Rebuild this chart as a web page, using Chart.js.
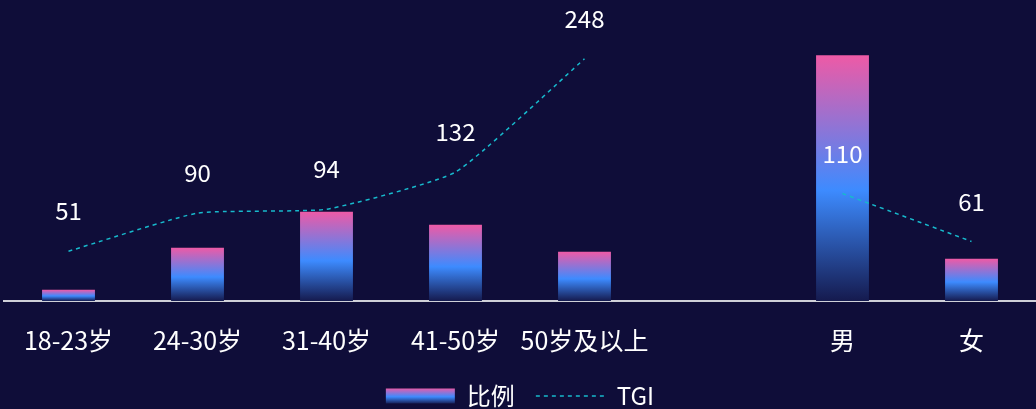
<!DOCTYPE html>
<html>
<head>
<meta charset="utf-8">
<script src="https://cdn.jsdelivr.net/npm/chart.js@4.4.1/dist/chart.umd.min.js"></script>
<style>
  html, body { margin: 0; padding: 0; background: #0f0d39; }
  #wrap { width: 1036px; height: 409px; position: relative; }
</style>
</head>
<body>
<div id="wrap"><canvas id="chart"></canvas></div>
<script>
// 数据
const categories = ['18-23岁', '24-30岁', '31-40岁', '41-50岁', '50岁及以上', '', '男', '女'];
const ratioValues = [3.8, 18.2, 30.5, 26.0, 16.8, null, 83.9, 14.4];
const tgiValues = [51, 90, 94, 132, 248, null, 110, 61];
const seriesNames = ['比例', 'TGI'];

const FONT = "'Microsoft YaHei', 'Noto Sans CJK SC', sans-serif";
const LEGEND_FONT = 24;
const PINK = '#ee5aa6';
const BLUE = '#3d8bff';
const DEEP = '#151a4e';
const CYAN = '#17b9cc';

function addStops(g) {
    g.addColorStop(0, PINK);
    g.addColorStop(0.55, BLUE);
    g.addColorStop(1, DEEP);
    return g;
}

function barGradient(context) {
    const chart = context.chart;
    if (!chart.chartArea || context.type !== 'data') return BLUE;
    const v = context.raw;
    if (v == null) return 'transparent';
    const scale = chart.scales.y1;
    const top = scale.getPixelForValue(v);
    const base = scale.getPixelForValue(0);
    return addStops(chart.ctx.createLinearGradient(0, top, 0, base));
}

// 折线上方的数值
const valueLabels = {
    id: 'valueLabels',
    afterDatasetsDraw(chart) {
        const meta = chart.getDatasetMeta(1);
        const ctx = chart.ctx;
        ctx.save();
        ctx.font = '24px ' + FONT;
        ctx.fillStyle = '#ffffff';
        ctx.textAlign = 'center';
        ctx.textBaseline = 'middle';
        meta.data.forEach((pt, i) => {
            const v = tgiValues[i];
            if (v == null) return;
            ctx.fillText(String(v), pt.x, pt.y - 40);
        });
        ctx.restore();
    }
};

// 图例高度固定，渐变色块按实际位置生成
const legendTweak = {
    id: 'legendTweak',
    afterInit(chart) {
        const lg = chart.legend;
        const fit = lg.fit;
        lg.fit = function () {
            fit.call(this);
            this.height = 46;
        };
    },
    beforeDraw(chart) {
        const lg = chart.legend;
        if (!lg || !lg.legendHitBoxes || !lg.legendHitBoxes.length) return;
        const hb = lg.legendHitBoxes[0];
        const cy = hb.top + LEGEND_FONT / 2;
        const g = addStops(chart.ctx.createLinearGradient(0, cy - 8, 0, cy + 8));
        lg.legendItems[0].fillStyle = g;
        lg.legendItems[0].strokeStyle = g;
    }
};

const ctx = document.getElementById('chart').getContext('2d');
const chart = new Chart(ctx, {
    type: 'bar',
    data: {
        labels: categories,
        datasets: [
            {
                type: 'bar',
                label: seriesNames[0],
                data: ratioValues,
                yAxisID: 'y1',
                backgroundColor: barGradient,
                borderWidth: 0,
                barPercentage: 0.41,
                categoryPercentage: 1,
                order: 1
            },
            {
                type: 'line',
                label: seriesNames[1],
                data: tgiValues,
                yAxisID: 'y',
                borderColor: CYAN,
                borderWidth: 1.5,
                borderDash: [4, 4],
                tension: 0.15,
                pointRadius: 0,
                spanGaps: false,
                fill: false,
                order: 0
            }
        ]
    },
    options: {
        responsive: true,
        maintainAspectRatio: false,
        animation: false,
        layout: { padding: { top: 8, left: 4, right: 0, bottom: 0 } },
        plugins: {
            tooltip: { enabled: false },
            legend: {
                position: 'bottom',
                labels: {
                    color: '#ffffff',
                    font: { size: LEGEND_FONT, family: FONT },
                    usePointStyle: true,
                    pointStyleWidth: 69,
                    boxHeight: 15,
                    padding: 21,
                    generateLabels() {
                        return [
                            { text: seriesNames[0], datasetIndex: 0, fillStyle: BLUE, strokeStyle: BLUE,
                              lineWidth: 0, pointStyle: 'rect', fontColor: '#ffffff' },
                            { text: seriesNames[1], datasetIndex: 1, fillStyle: CYAN, strokeStyle: CYAN,
                              lineWidth: 1.5, lineDash: [4, 4], pointStyle: 'line', fontColor: '#ffffff' }
                        ];
                    }
                }
            }
        },
        scales: {
            x: {
                grid: { display: false },
                border: { color: '#cfd0d8', width: 2 },
                ticks: {
                    color: '#ffffff',
                    font: { size: 25, family: FONT },
                    padding: 16,
                    maxRotation: 0,
                    autoSkip: false
                },
                afterFit(scale) { scale.height = 62; }
            },
            y: { display: false, min: 0, max: 300 },
            y1: { display: false, min: 0, max: 100 }
        }
    },
    plugins: [valueLabels, legendTweak]
});
</script>
</body>
</html>
